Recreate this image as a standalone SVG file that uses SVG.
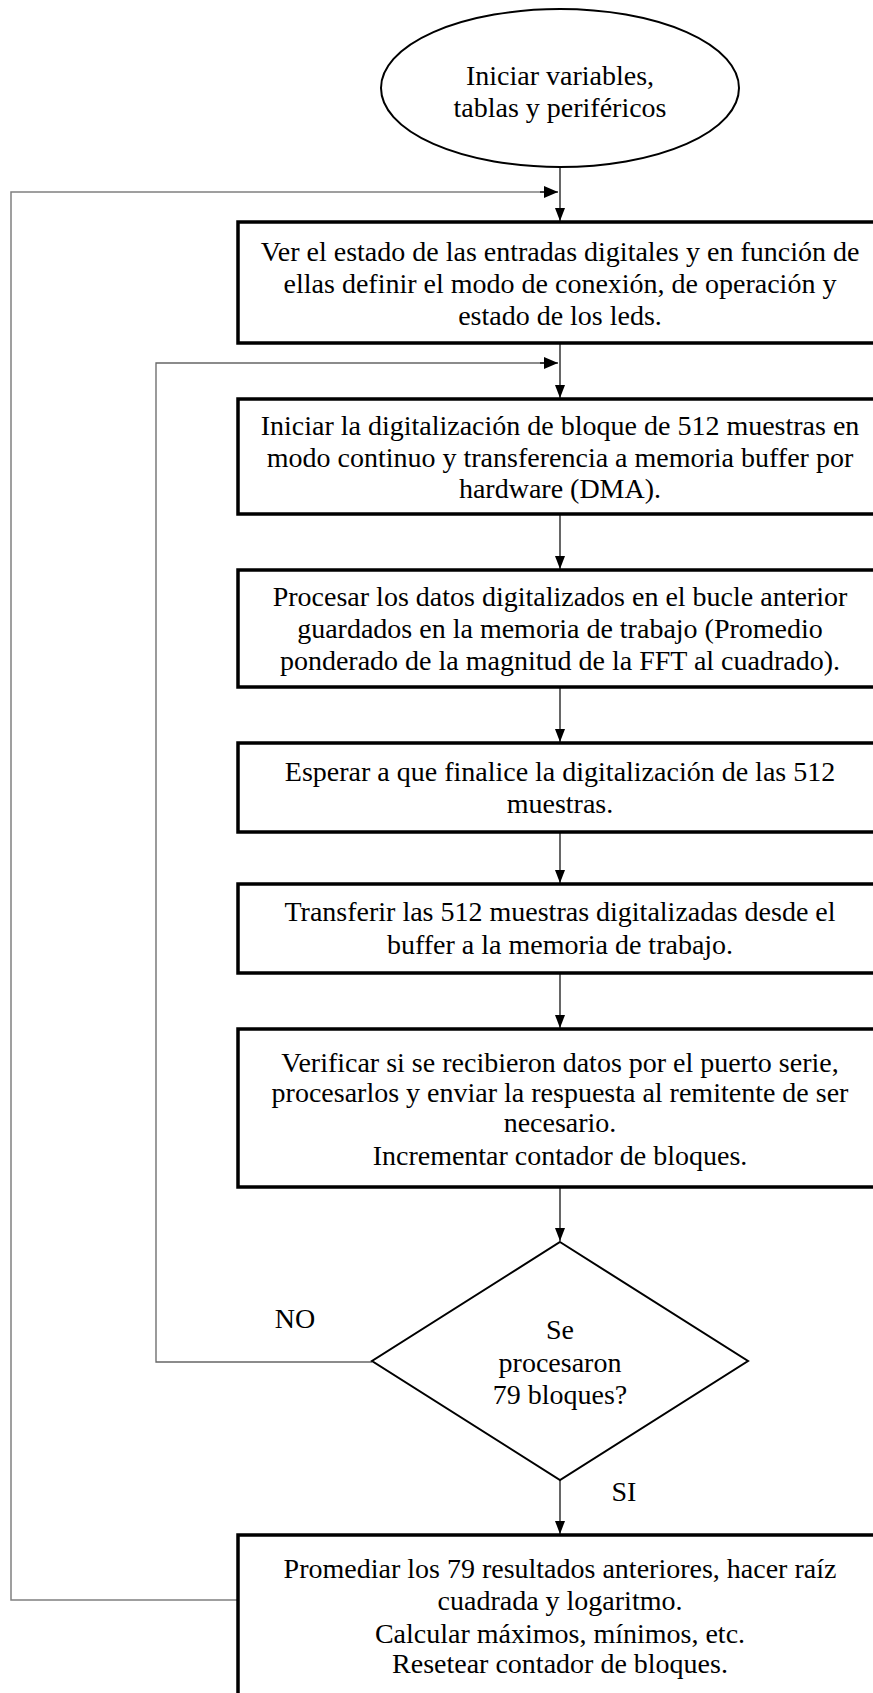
<svg xmlns="http://www.w3.org/2000/svg" width="873" height="1693" viewBox="0 0 873 1693">
<defs>
<marker id="ah" viewBox="0 0 10 10" refX="10" refY="5" markerWidth="10" markerHeight="10" markerUnits="userSpaceOnUse" orient="auto">
<path d="M0,0 L10,5 L0,10 Z" fill="#000"/>
</marker>
<marker id="ahh" viewBox="0 0 14 12" refX="14" refY="6" markerWidth="14" markerHeight="12" markerUnits="userSpaceOnUse" orient="auto">
<path d="M0,0 L14,6 L0,12 Z" fill="#000"/>
</marker>
<marker id="ahv" viewBox="0 0 13 10" refX="13" refY="5" markerWidth="13" markerHeight="10" markerUnits="userSpaceOnUse" orient="auto">
<path d="M0,0 L13,5 L0,10 Z" fill="#000"/>
</marker>
</defs>
<style>
text{font-family:"Liberation Serif","Times New Roman",serif;font-size:28px;fill:#000;text-anchor:middle}
.box{fill:#fff;stroke:#000;stroke-width:3.5}
.sh{fill:#fff;stroke:#000;stroke-width:2}
.c{fill:none;stroke:#000;stroke-width:1.2}
.loop{fill:none;stroke:#808080;stroke-width:1.5}
.loop2{fill:none;stroke:#666;stroke-width:1.3}
</style>
<rect width="873" height="1693" fill="#fff"/>
<g id="connectors">
<line class="c" x1="560" y1="167" x2="560" y2="221" marker-end="url(#ahv)"/>
<line class="c" x1="560" y1="343" x2="560" y2="398" marker-end="url(#ahv)"/>
<line class="c" x1="560" y1="514" x2="560" y2="569" marker-end="url(#ahv)"/>
<line class="c" x1="560" y1="687" x2="560" y2="742" marker-end="url(#ahv)"/>
<line class="c" x1="560" y1="832" x2="560" y2="883" marker-end="url(#ahv)"/>
<line class="c" x1="560" y1="973" x2="560" y2="1028" marker-end="url(#ahv)"/>
<line class="c" x1="560" y1="1187" x2="560" y2="1241" marker-end="url(#ahv)"/>
<line class="c" x1="560" y1="1480" x2="560" y2="1534" marker-end="url(#ahv)"/>
<polyline class="loop" points="238,1600 11,1600 11,192 545,192"/>
<line class="c" x1="540" y1="192" x2="558" y2="192" marker-end="url(#ahh)"/>
<polyline class="loop2" points="372,1362 156,1362 156,363 545,363"/>
<line class="c" x1="540" y1="363" x2="558" y2="363" marker-end="url(#ahh)"/>
<text x="295" y="1328">NO</text>
<text x="624" y="1501">SI</text>
</g>
<g id="start">
<ellipse class="sh" cx="560" cy="88" rx="179" ry="79"/>
<text x="560" y="85">Iniciar variables,</text>
<text x="560" y="117">tablas y periféricos</text>
</g>
<g id="box1">
<rect class="box" x="238" y="222" width="650" height="121"/>
<text x="560" y="261">Ver el estado de las entradas digitales y en función de</text>
<text x="560" y="293">ellas definir el modo de conexión, de operación y</text>
<text x="560" y="325">estado de los leds.</text>
</g>
<g id="box2">
<rect class="box" x="238" y="399" width="650" height="115"/>
<text x="560" y="435">Iniciar la digitalización de bloque de 512 muestras en</text>
<text x="560" y="467">modo continuo y transferencia a memoria buffer por</text>
<text x="560" y="498">hardware (DMA).</text>
</g>
<g id="box3">
<rect class="box" x="238" y="570" width="650" height="117"/>
<text x="560" y="606">Procesar los datos digitalizados en el bucle anterior</text>
<text x="560" y="638">guardados en la memoria de trabajo (Promedio</text>
<text x="560" y="670">ponderado de la magnitud de la FFT al cuadrado).</text>
</g>
<g id="box4">
<rect class="box" x="238" y="743" width="650" height="89"/>
<text x="560" y="781">Esperar a que finalice la digitalización de las 512</text>
<text x="560" y="813">muestras.</text>
</g>
<g id="box5">
<rect class="box" x="238" y="884" width="650" height="89"/>
<text x="560" y="921">Transferir las 512 muestras digitalizadas desde el</text>
<text x="560" y="954">buffer a la memoria de trabajo.</text>
</g>
<g id="box6">
<rect class="box" x="238" y="1029" width="650" height="158"/>
<text x="560" y="1072">Verificar si se recibieron datos por el puerto serie,</text>
<text x="560" y="1102">procesarlos y enviar la respuesta al remitente de ser</text>
<text x="560" y="1132">necesario.</text>
<text x="560" y="1165">Incrementar contador de bloques.</text>
</g>
<g id="decision">
<polygon class="sh" points="560,1242 748,1361 560,1480 372,1361"/>
<text x="560" y="1339">Se</text>
<text x="560" y="1372">procesaron</text>
<text x="560" y="1404">79 bloques?</text>
</g>
<g id="box7">
<rect class="box" x="238" y="1535" width="650" height="180"/>
<text x="560" y="1578">Promediar los 79 resultados anteriores, hacer raíz</text>
<text x="560" y="1610">cuadrada y logaritmo.</text>
<text x="560" y="1643">Calcular máximos, mínimos, etc.</text>
<text x="560" y="1673">Resetear contador de bloques.</text>
</g>
</svg>
